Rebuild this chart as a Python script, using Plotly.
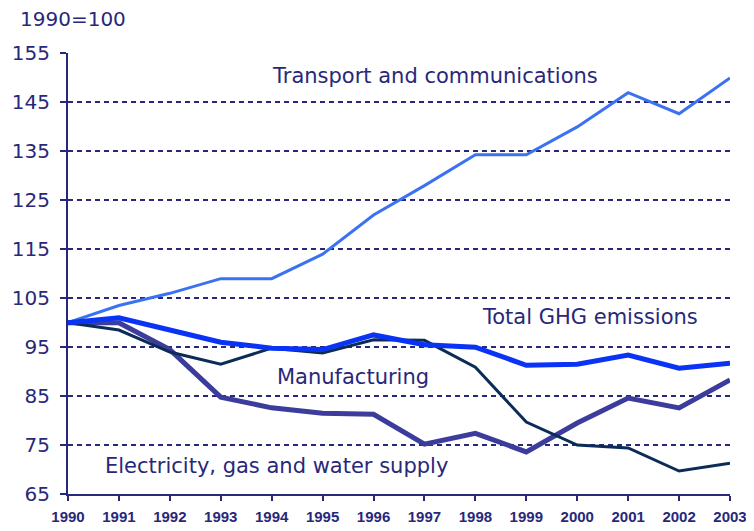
import plotly.graph_objects as go

years = list(range(1990, 2004))
transport = [100, 103.5, 106, 109, 109, 114, 122, 128, 134.3, 134.3, 140, 147, 142.7, 150]
total_ghg = [100, 101, 98.5, 96, 94.8, 94.5, 97.5, 95.5, 95, 91.3, 91.5, 93.4, 90.7, 91.7]
manufacturing = [100, 98.5, 94, 91.5, 94.8, 93.8, 96.5, 96.4, 90.9, 79.7, 75, 74.4, 69.7, 71.3]
electricity = [100, 100, 94.5, 84.8, 82.6, 81.5, 81.3, 75.2, 77.4, 73.6, 79.5, 84.6, 82.6, 88.3]

navy = "#28287a"
txt = dict(family="DejaVu Sans", size=21, color=navy)

fig = go.Figure()
fig.add_trace(go.Scatter(x=years, y=transport, mode="lines", line=dict(color="#3a72f2", width=3)))
fig.add_trace(go.Scatter(x=years, y=electricity, mode="lines", line=dict(color="#3c3c9c", width=5)))
fig.add_trace(go.Scatter(x=years, y=manufacturing, mode="lines", line=dict(color="#0c2c58", width=3)))
fig.add_trace(go.Scatter(x=years, y=total_ghg, mode="lines", line=dict(color="#0a34f5", width=5)))

# labels on the lines
fig.add_annotation(x=1997.2, y=150.3, text="Transport and communications", showarrow=False, font=txt)
fig.add_annotation(x=2000.25, y=101.1, text="Total GHG emissions", showarrow=False, font=txt)
fig.add_annotation(x=1995.6, y=88.9, text="Manufacturing", showarrow=False, font=txt)
fig.add_annotation(x=1994.1, y=70.7, text="Electricity, gas and water supply", showarrow=False, font=txt)
fig.add_annotation(x=-0.076, y=1.078, xref="paper", yref="paper", text="1990=100",
                   showarrow=False, xanchor="left", yanchor="middle",
                   font=dict(family="DejaVu Sans", size=20, color=navy))

# page body has an 8px margin, so the figure is a bit smaller than the window
fig.update_layout(
    width=746, height=523,
    margin=dict(l=60, r=24, t=45, b=37),
    plot_bgcolor="white", paper_bgcolor="white",
    showlegend=False,
)

fig.update_xaxes(range=[1990, 2003], tickvals=years, showgrid=False,
                 showline=True, linecolor=navy, linewidth=2,
                 ticks="outside", ticklen=5, tickcolor=navy, tickwidth=2,
                 ticklabelstandoff=3,
                 tickfont=dict(family="Liberation Sans", size=15, color=navy, weight="bold"),
                 zeroline=False, automargin=False)
fig.update_yaxes(range=[65, 155.1], tickvals=list(range(65, 156, 10)),
                 showgrid=True, gridcolor=navy, griddash="5px,4px", gridwidth=2,
                 showline=True, linecolor=navy, linewidth=2,
                 ticks="outside", ticklen=6, tickcolor=navy, tickwidth=2,
                 ticklabelstandoff=6,
                 tickfont=dict(family="DejaVu Sans", size=20, color=navy),
                 zeroline=False, automargin=False)

fig.write_html("out.html")
